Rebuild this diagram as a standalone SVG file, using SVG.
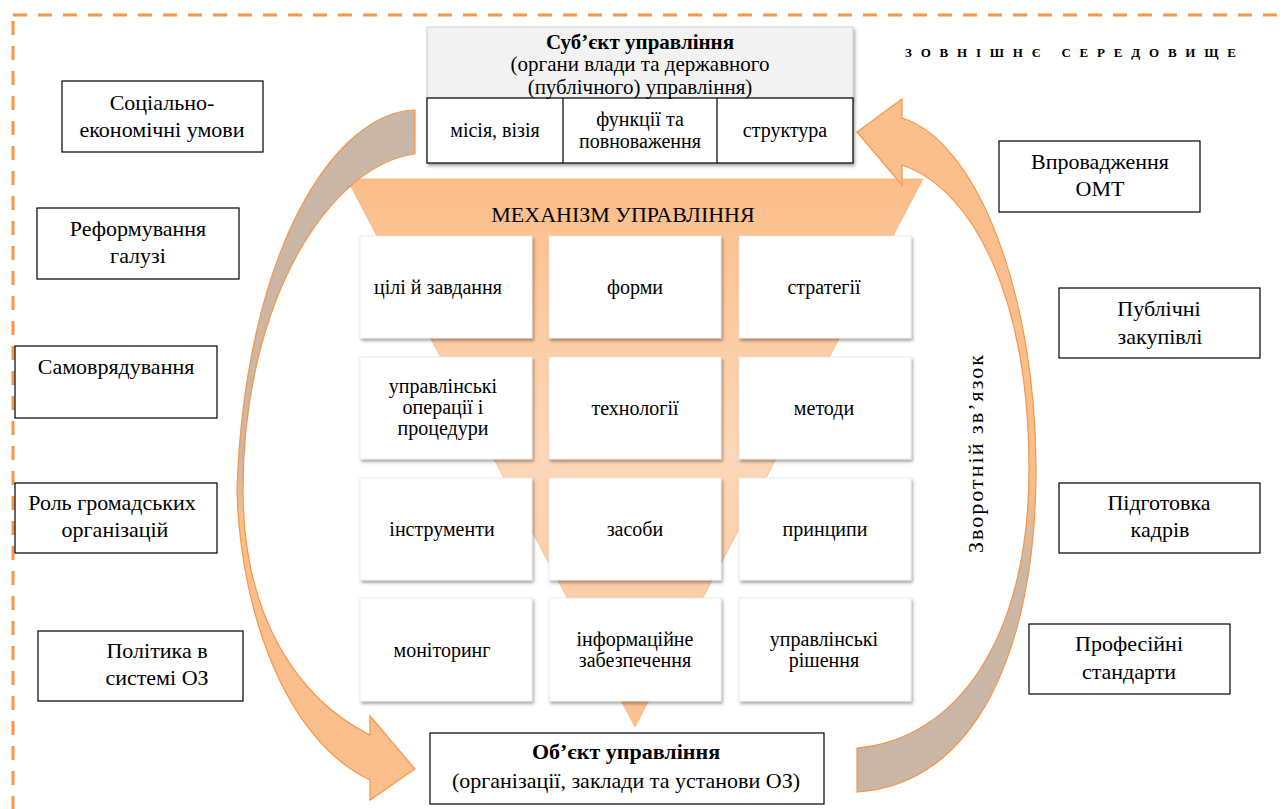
<svg xmlns="http://www.w3.org/2000/svg" width="1282" height="809" viewBox="0 0 1282 809" font-family="'Liberation Serif', 'Times New Roman', serif">
<defs>
<style>
.t{font-family:'Liberation Serif','Times New Roman',serif;fill:#000;text-anchor:middle}
.lb{font-size:22px}
.cell{font-size:20px}
.hd{font-size:22px}
.hs{font-size:21px}
.box{fill:#fff;stroke:#000;stroke-width:1.2}
.gc{fill:#fff;stroke:#e6e6e6;stroke-width:0.8;filter:url(#sh)}
.arr{stroke:#f79646;stroke-width:1.2}
</style>
<filter id="sh" x="-10%" y="-10%" width="125%" height="130%">
<feDropShadow dx="1.5" dy="2.5" stdDeviation="1.5" flood-color="#000" flood-opacity="0.35"/>
</filter>
<linearGradient id="tri" gradientUnits="userSpaceOnUse" x1="0" y1="179" x2="0" y2="728">
<stop offset="0" stop-color="#fbbd88"/>
<stop offset="0.18" stop-color="#fcc79a"/>
<stop offset="0.5" stop-color="#fdd7b8"/>
<stop offset="0.85" stop-color="#fccaa0"/>
<stop offset="1" stop-color="#fbbf8c"/>
</linearGradient>
<linearGradient id="gl" gradientUnits="userSpaceOnUse" x1="0" y1="110" x2="0" y2="800">
<stop offset="0" stop-color="#c9b6a6"/>
<stop offset="0.5" stop-color="#cdb7a4"/>
<stop offset="0.6" stop-color="#f9be8d"/>
<stop offset="1" stop-color="#fbbf8c"/>
</linearGradient>
<linearGradient id="gr" gradientUnits="userSpaceOnUse" x1="0" y1="792" x2="0" y2="99">
<stop offset="0" stop-color="#c9b6a6"/>
<stop offset="0.33" stop-color="#cdb7a4"/>
<stop offset="0.45" stop-color="#f9be8d"/>
<stop offset="1" stop-color="#fbbf8c"/>
</linearGradient>
</defs>

<rect x="0" y="0" width="1282" height="809" fill="#fff"/>
<rect id="border" x="13" y="15" width="1320" height="840" fill="none" stroke="#f79646" stroke-width="3" stroke-dasharray="14 11"/>

<text id="env" class="t" x="905" y="57" style="font-size:13px;font-weight:bold;text-anchor:start" textLength="331" lengthAdjust="spacing">ЗОВНІШНЄ СЕРЕДОВИЩЕ</text>

<g id="funnel">
<polygon points="347,179 923,179 635,727" fill="url(#tri)" stroke="#f9b47c" stroke-width="0.8"/>
<text class="t hd" x="623" y="222">МЕХАНІЗМ УПРАВЛІННЯ</text>
</g>

<g id="connectors">
<path id="arrow-left" class="arr" fill="url(#gl)" d="M415,110 C335,112 245,250 237,490 C240,610 285,740 370,780 L370,800 L415,769 L370,716 L370,735 C300,700 243,620 243,490 C243,300 330,165 415,154 Z"/>
<path id="arrow-right" class="arr" fill="url(#gr)" d="M902,118 C975,140 1036,290 1036,470 C1036,650 975,785 857,792 L857,748 C955,740 1029,640 1029,470 C1029,300 975,190 902,165 L902,185 L857,132 L902,99 Z"/>
</g>

<g id="subject">
<rect x="427" y="27" width="426" height="71" fill="#f2f2f2" stroke="#d0d0d0" stroke-width="1" filter="url(#sh)"/>
<rect x="427" y="98" width="426" height="65" class="box" stroke-width="1.5" filter="url(#sh)"/>
<line x1="563" y1="98" x2="563" y2="163" stroke="#000" stroke-width="1.2"/>
<line x1="717" y1="98" x2="717" y2="163" stroke="#000" stroke-width="1.2"/>
<text class="t hs" x="640" y="49" style="font-weight:bold">Суб’єкт управління</text>
<text class="t hs" x="640" y="71">(органи влади та державного</text>
<text class="t hs" x="640" y="94">(публічного) управління)</text>
<text class="t cell" x="495" y="137">місія, візія</text>
<text class="t cell" x="640" y="126">функції та</text>
<text class="t cell" x="640" y="148">повноваження</text>
<text class="t cell" x="785" y="137">структура</text>
</g>

<g id="c11"><rect class="gc" x="360" y="236" width="172" height="102"/><text class="t cell" x="438" y="294">цілі й завдання</text></g>
<g id="c12"><rect class="gc" x="549" y="236" width="172" height="102"/><text class="t cell" x="635" y="294">форми</text></g>
<g id="c13"><rect class="gc" x="739" y="236" width="172" height="102"/><text class="t cell" x="824" y="294">стратегії</text></g>

<g id="c21"><rect class="gc" x="360" y="357" width="172" height="102"/><text class="t cell" x="443" y="393">управлінські</text><text class="t cell" x="443" y="414">операції і</text><text class="t cell" x="443" y="435">процедури</text></g>
<g id="c22"><rect class="gc" x="549" y="357" width="172" height="102"/><text class="t cell" x="635" y="415">технології</text></g>
<g id="c23"><rect class="gc" x="739" y="357" width="172" height="102"/><text class="t cell" x="824" y="415">методи</text></g>

<g id="c31"><rect class="gc" x="360" y="478" width="172" height="102"/><text class="t cell" x="442" y="536">інструменти</text></g>
<g id="c32"><rect class="gc" x="549" y="478" width="172" height="102"/><text class="t cell" x="635" y="536">засоби</text></g>
<g id="c33"><rect class="gc" x="739" y="478" width="172" height="102"/><text class="t cell" x="825" y="536">принципи</text></g>

<g id="c41"><rect class="gc" x="360" y="598" width="172" height="103"/><text class="t cell" x="442" y="657">моніторинг</text></g>
<g id="c42"><rect class="gc" x="549" y="598" width="172" height="103"/><text class="t cell" x="635" y="646">інформаційне</text><text class="t cell" x="635" y="667">забезпечення</text></g>
<g id="c43"><rect class="gc" x="739" y="598" width="172" height="103"/><text class="t cell" x="824" y="646">управлінські</text><text class="t cell" x="824" y="667">рішення</text></g>

<g id="object">
<rect class="box" x="430" y="733" width="394" height="71"/>
<text class="t hd" x="626" y="759" style="font-weight:bold">Об’єкт управління</text>
<text class="t hd" x="626" y="788">(організації, заклади та установи ОЗ)</text>
</g>

<g id="feedback-label">
<text class="t" transform="translate(983,454) rotate(-90)" style="font-size:22px" textLength="198" lengthAdjust="spacing">Зворотній зв’язок</text>
</g>

<g id="f1"><rect class="box" x="62" y="81" width="201" height="71"/><text class="t lb" x="162" y="110">Соціально-</text><text class="t lb" x="162" y="137">економічні умови</text></g>
<g id="f2"><rect class="box" x="37" y="208" width="202" height="71"/><text class="t lb" x="138" y="236">Реформування</text><text class="t lb" x="138" y="263">галузі</text></g>
<g id="f3"><rect class="box" x="15" y="346" width="202" height="72"/><text class="t lb" x="116" y="374">Самоврядування</text></g>
<g id="f4"><rect class="box" x="15" y="483" width="202" height="70"/><text class="t lb" x="112" y="510">Роль громадських</text><text class="t lb" x="115" y="537">організацій</text></g>
<g id="f5"><rect class="box" x="38" y="631" width="205" height="70"/><text class="t lb" x="157" y="658">Політика в</text><text class="t lb" x="157" y="685">системі ОЗ</text></g>

<g id="f6"><rect class="box" x="999" y="141" width="201" height="71"/><text class="t lb" x="1100" y="169">Впровадження</text><text class="t lb" x="1100" y="196">ОМТ</text></g>
<g id="f7"><rect class="box" x="1059" y="288" width="201" height="70"/><text class="t lb" x="1159" y="316">Публічні</text><text class="t lb" x="1160" y="344">закупівлі</text></g>
<g id="f8"><rect class="box" x="1059" y="483" width="201" height="70"/><text class="t lb" x="1159" y="510">Підготовка</text><text class="t lb" x="1160" y="537">кадрів</text></g>
<g id="f9"><rect class="box" x="1029" y="624" width="201" height="70"/><text class="t lb" x="1129" y="651">Професійні</text><text class="t lb" x="1129" y="679">стандарти</text></g>
</svg>
